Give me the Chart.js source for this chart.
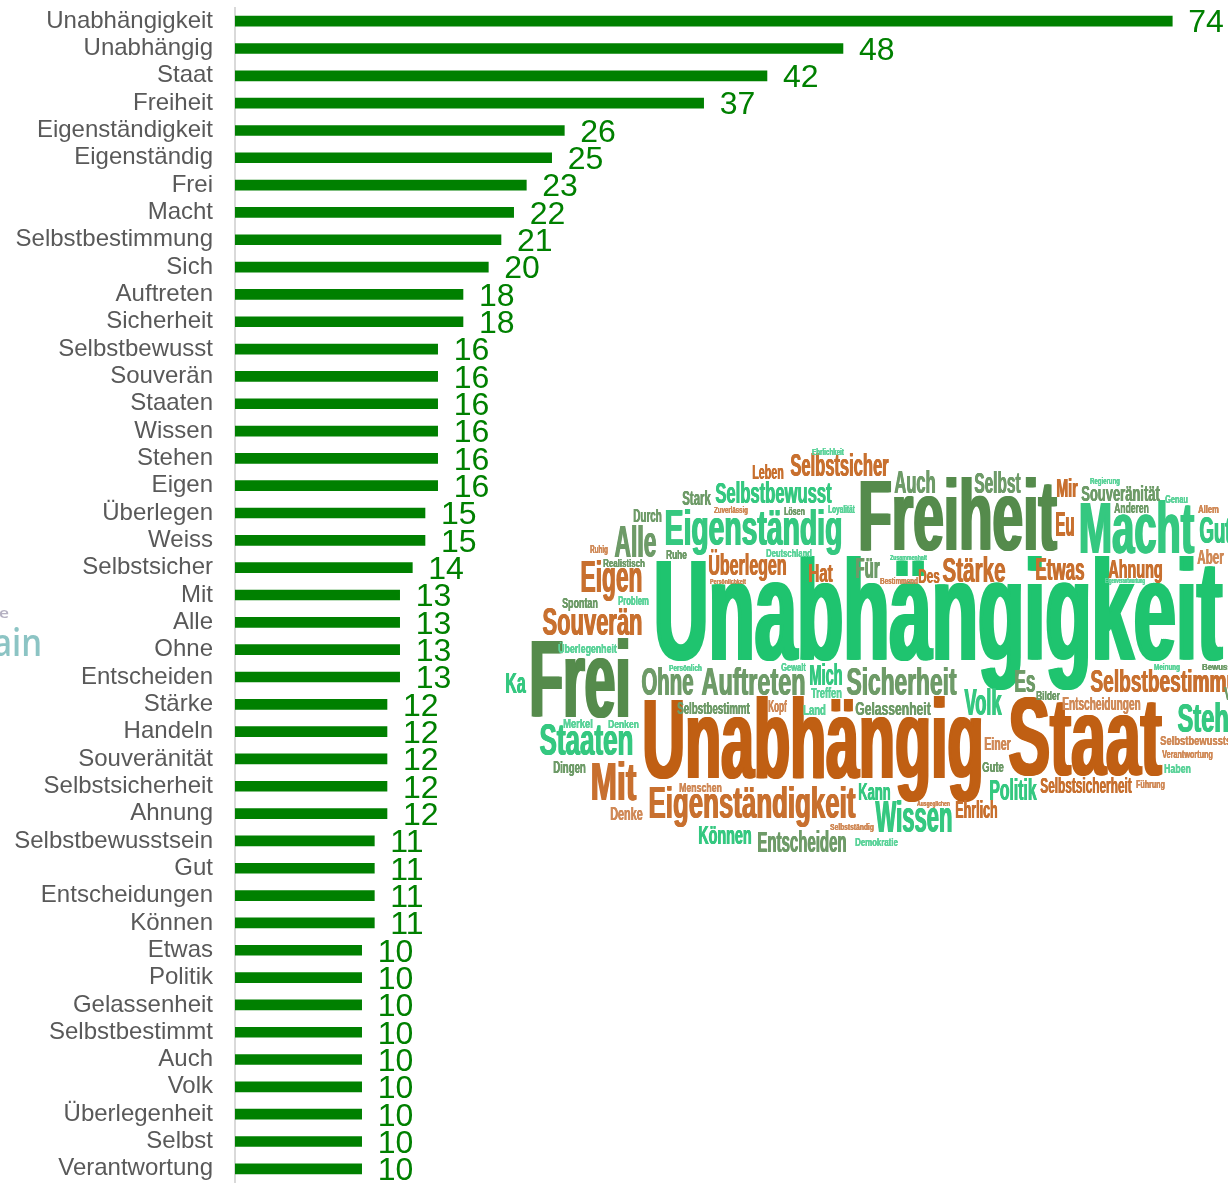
<!DOCTYPE html>
<html lang="de">
<head>
<meta charset="utf-8">
<style>
html,body{margin:0;padding:0;background:#fff;overflow:hidden}
#wrap{position:relative;width:1228px;height:1183px}
</style>
<script src="https://cdn.jsdelivr.net/npm/chart.js@4"></script>
</head>
<body>
<div id="wrap"><canvas id="c" width="1228" height="1183"></canvas></div>
<script>
const categories = ["Unabhängigkeit","Unabhängig","Staat","Freiheit","Eigenständigkeit","Eigenständig","Frei","Macht","Selbstbestimmung","Sich","Auftreten","Sicherheit","Selbstbewusst","Souverän","Staaten","Wissen","Stehen","Eigen","Überlegen","Weiss","Selbstsicher","Mit","Alle","Ohne","Entscheiden","Stärke","Handeln","Souveränität","Selbstsicherheit","Ahnung","Selbstbewusstsein","Gut","Entscheidungen","Können","Etwas","Politik","Gelassenheit","Selbstbestimmt","Auch","Volk","Überlegenheit","Selbst","Verantwortung"];
const counts = [74,48,42,37,26,25,23,22,21,20,18,18,16,16,16,16,16,16,15,15,14,13,13,13,13,12,12,12,12,12,11,11,11,11,10,10,10,10,10,10,10,10,10];

const O1='#C05F13',O2='#C8702F',O3='#D08A58',G1='#1FC46F',G2='#35C880',G3='#558B4C',G4='#6E9B68',G5='#5CD39A';
// word-cloud picture: [word, left, right, baseline, cap height, colour]
const cloudLayout = [
["Unabhängigkeit",652,1224,660,98,G1],["Unabhängig",641,985,778,78,O1],["Staat",1007,1163,775,77,O1],
["Freiheit",857,1058,550,69,G3],["Frei",528,632,717,75,G3],["Macht",1078,1195,553,50,G2],
["Eigenständig",664,843,545,35,G2],["Eigenständigkeit",648,856,818,31,O2],["Selbstbewusst",715,832,503,20,G2],
["Selbstsicher",790,889,476,21,O2],["Auch",894,936,493,22,G4],["Selbst",974,1021,493,20,G4],["Mir",1056,1078,497,18,O2],
["Souveränität",1081,1160,501,15,G4],["Stark",682,711,505,14,G4],["Leben",752,784,479,14,O2],["Durch",633,662,522,13,G4],
["Alle",614,657,557,31,G4],["Eu",1055,1075,536,24,O2],["Anderen",1114,1149,513,10,G4],["Genau",1165,1188,503,8,G5],
["Regierung",1090,1120,484,6,G5],["Allem",1198,1219,513,8,O3],["Gut",1199,1232,543,26,G2],["Aber",1197,1224,564,14,O3],
["Ruhig",590,608,553,8,O3],["Ruhe",666,687,559,9,G4],["Deutschland",766,812,557,8,G5],["Lösen",784,805,515,8,G4],
["Zuverlässig",714,748,513,6,O3],["Loyalität",828,855,513,7,G5],["Überlegen",708,787,575,20,O2],["Hat",808,833,582,18,O2],
["Für",855,880,578,20,G4],["Zusammenhalt",890,927,560,5,G5],["Bestimmend",880,918,584,6,O3],["Des",918,940,583,14,O2],
["Stärke",942,1006,582,24,O2],["Etwas",1035,1085,580,21,O2],["Ahnung",1108,1163,578,18,O2],["Eigenverantwortung",1105,1145,583,5,G5],
["Realistisch",603,645,567,8,G4],["Eigen",580,643,592,30,O2],["Persönlichkeit",710,746,584,5,O3],["Spontan",562,598,608,10,G4],
["Problem",618,649,605,9,G5],["Souverän",542,643,635,27,O2],["Überlegenheit",558,617,653,9,G5],["Ka",505,526,693,20,G2],
["Ohne",641,694,695,27,G4],["Auftreten",701,806,695,27,G4],["Persönlich",669,702,671,6,G5],["Gewalt",781,806,671,7,G5],
["Mich",809,843,685,20,G2],["Treffen",811,842,698,10,G5],["Sicherheit",846,957,695,27,G4],["Es",1014,1036,692,22,G4],
["Volk",964,1002,715,26,G2],["Bilder",1036,1060,700,9,G4],["Entscheidungen",1062,1141,710,12,O3],["Selbstbestimmung",1090,1262,692,22,O2],
["Meinung",1154,1180,670,6,G5],["Bewusstsein",1202,1250,670,6,G4],["Stehen",1177,1257,732,28,G2],["V",1224,1232,700,12,G4],
["Selbstbestimmt",677,750,714,11,G4],["Kopf",768,787,712,11,O3],["Land",803,826,715,10,G5],["Gelassenheit",855,931,715,13,G4],
["Merkel",563,593,728,9,G5],["Denken",608,639,728,8,G5],["Staaten",539,634,755,30,G2],["Dingen",553,586,773,11,G4],
["Einer",984,1011,750,12,O3],["Selbstbewusstsein",1160,1245,745,9,O3],["Verantwortung",1162,1213,758,7,O3],["Haben",1164,1191,773,9,G5],
["Gute",982,1004,772,10,G4],["Mit",590,637,800,37,O2],["Menschen",679,722,792,9,O3],["Kann",858,891,800,17,G2],
["Politik",989,1037,800,20,G2],["Selbstsicherheit",1040,1132,793,15,O2],["Führung",1136,1165,788,7,O3],["Denke",610,643,820,13,O3],
["Wissen",875,953,832,30,G2],["Ehrlich",955,998,818,17,O2],["Ausgeglichen",917,950,806,5,O3],["Selbstständig",830,874,830,6,O3],
["Können",698,752,844,18,G2],["Entscheiden",757,847,852,20,G4],["Demokratie",855,898,846,7,G5],["Ehrlichkeit",812,844,455,6,G5]
];
// faint remains of a second picture at the left edge: [text, left, right, baseline, size, colour]
const edgeLayout = [["ain",-7,42,656,37,'#8CC4C4'],["e",-1,9,618,15,'#B5B1C2']];

const cloudPlugin = {
  id:'cloud',
  afterDraw(chart){
    const ctx = chart.ctx;
    for(const [word,l,r,base,cap,col] of cloudLayout){
      const size = cap/0.688;
      ctx.save();
      ctx.font = `bold ${size}px "Liberation Sans"`;
      ctx.fillStyle = col;
      ctx.textAlign='left';ctx.textBaseline='alphabetic';
      const w = ctx.measureText(word).width, d = cap*0.018, sx=(r-l-2*d)/w;
      ctx.translate(l+d,base);ctx.scale(sx,1);
      for(const off of [-d,0,d]) ctx.fillText(word,off/sx,0);
      ctx.restore();
    }
    for(const [word,l,r,base,size,col] of edgeLayout){
      ctx.save();
      ctx.font = `600 ${size}px "Open Sans"`;
      ctx.fillStyle = col;
      const w = ctx.measureText(word).width;
      ctx.translate(l,base);ctx.scale((r-l)/w,1);
      ctx.fillText(word,0,0);
      ctx.restore();
    }
  }
};
const valueLabels = {
  id:'valueLabels',
  afterDatasetsDraw(chart){
    const ctx=chart.ctx, meta=chart.getDatasetMeta(0);
    ctx.save();
    ctx.font='32px "Liberation Sans"';ctx.fillStyle='#008000';
    ctx.textAlign='left';ctx.textBaseline='middle';
    meta.data.forEach((bar,i)=>ctx.fillText(String(counts[i]),bar.x+16,bar.y+2.5));
    ctx.restore();
  }
};
new Chart(document.getElementById('c'),{
  type:'bar',
  data:{labels:categories,datasets:[{data:counts,backgroundColor:'#008000',barThickness:10,borderWidth:0}]},
  options:{
    indexAxis:'y',responsive:false,animation:false,
    layout:{padding:{top:7.5,bottom:0.5,left:0,right:0}},
    plugins:{legend:{display:false},tooltip:{enabled:false}},
    scales:{
      x:{display:false,min:0,max:78.4},
      y:{
        afterFit(s){s.width=235;s.paddingTop=0;s.paddingBottom=0;},
        grid:{display:false,drawTicks:false},
        border:{display:true,color:'#D9D9D9',width:2},
        ticks:{autoSkip:false,font:{family:'"Liberation Sans"',size:24},color:'#595959',padding:22}
      }
    }
  },
  plugins:[valueLabels,cloudPlugin]
});
</script>
</body>
</html>
